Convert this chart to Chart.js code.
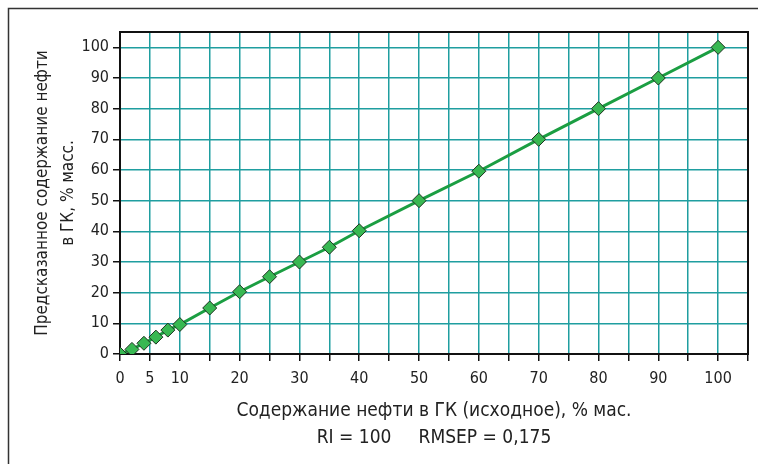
<!DOCTYPE html>
<html>
<head>
<meta charset="utf-8">
<script src="https://cdn.jsdelivr.net/npm/chart.js@4"></script>
<style>
html,body{margin:0;padding:0;background:#fff;}
#wrap{width:758px;height:464px;position:relative;}
</style>
</head>
<body>
<div id="wrap"><canvas id="c" width="758" height="464"></canvas></div>
<script>
const actual = [0, 2, 4, 6, 8, 10, 15, 20, 25, 30, 35, 40, 50, 60, 70, 80, 90, 100];
const predicted = [0, 1.5, 3.5, 5.5, 7.8, 9.6, 15, 20.3, 25.2, 30, 34.8, 40.2, 50, 59.6, 70, 80, 90, 100];
const xTickLabels = [0, 5, 10, 20, 30, 40, 50, 60, 70, 80, 90, 100];
const yTickValues = [0, 10, 20, 30, 40, 50, 60, 70, 80, 90, 100];
const yTitle = ["Предсказанное содержание нефти", "в ГК, % масс."];
const xTitle = ["Содержание нефти в ГК (исходное), % мас.", "RI = 100     RMSEP = 0,175"];

const FONT = "'Liberation Sans Narrow', 'DejaVu Sans Condensed', 'Liberation Sans', sans-serif";
const GRID = '#1f9ea0';

const framePlugin = {
  id: 'frame',
  beforeDraw(chart) {
    const ctx = chart.ctx;
    ctx.save();
    ctx.strokeStyle = '#333';
    ctx.lineWidth = 1.5;
    ctx.beginPath();
    ctx.moveTo(8.5, 464);
    ctx.lineTo(8.5, 8.5);
    ctx.lineTo(758, 8.5);
    ctx.stroke();
    ctx.restore();
  },
  beforeDatasetsDraw(chart) {
    const a = chart.chartArea, ctx = chart.ctx;
    ctx.save();
    ctx.strokeStyle = '#111';
    ctx.lineWidth = 2;
    ctx.strokeRect(a.left, a.top, a.right - a.left, a.bottom - a.top);
    ctx.restore();
  }
};

new Chart(document.getElementById('c'), {
  type: 'scatter',
  data: {
    datasets: [{
      data: actual.map((x, i) => ({x: x, y: predicted[i]})),
      showLine: true,
      borderColor: '#1b9e42',
      borderWidth: 3,
      pointStyle: 'rectRot',
      pointRadius: 7,
      pointHoverRadius: 7,
      pointBackgroundColor: '#38b852',
      pointBorderColor: '#1d3320',
      pointBorderWidth: 1
    }]
  },
  options: {
    responsive: false,
    animation: false,
    layout: {padding: {top: 32, right: 10, left: 26, bottom: 0}},
    plugins: {legend: {display: false}, tooltip: {enabled: false}},
    scales: {
      x: {
        type: 'linear', min: 0, max: 105,
        afterFit(s) { s.height = 110; },
        ticks: {
          stepSize: 5, autoSkip: false, maxRotation: 0,
          color: '#222', font: {family: FONT, size: 16}, padding: 8,
          callback: v => xTickLabels.includes(v) ? String(v) : ''
        },
        grid: {color: GRID, lineWidth: 1.5, tickColor: '#111', tickLength: 7, tickWidth: 1.5},
        border: {display: false},
        title: {
          display: true, text: xTitle, color: '#222',
          font: {family: FONT, size: 19, lineHeight: 1.42}, padding: {top: 4, bottom: 12}
        }
      },
      y: {
        type: 'linear', min: 0, max: 105,
        afterFit(s) { s.width = 94; },
        afterBuildTicks(s) { s.ticks = yTickValues.map(v => ({value: v})); },
        ticks: {stepSize: 10, color: '#222', font: {family: FONT, size: 16}, padding: 4},
        grid: {color: GRID, lineWidth: 1.5, tickColor: '#111', tickLength: 7, tickWidth: 1.5},
        border: {display: false},
        title: {
          display: true, text: yTitle, color: '#222',
          font: {family: FONT, size: 17, lineHeight: 1.5}, padding: {bottom: 6}
        }
      }
    }
  },
  plugins: [framePlugin]
});
</script>
</body>
</html>
